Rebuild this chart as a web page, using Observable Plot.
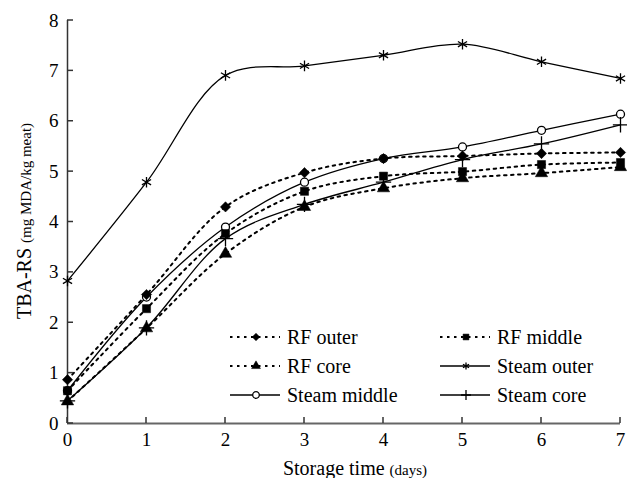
<!DOCTYPE html>
<html>
<head>
<meta charset="utf-8">
<script src="https://cdn.jsdelivr.net/npm/d3@7"></script>
<script src="https://cdn.jsdelivr.net/npm/@observablehq/plot@0.6"></script>
<style>
  html, body { margin: 0; padding: 0; background: white; }
</style>
</head>
<body>
<div id="chart"></div>
<script>
const days = [0, 1, 2, 3, 4, 5, 6, 7];
const rfOuter     = [0.87, 2.56, 4.30, 4.98, 5.26, 5.31, 5.36, 5.38];
const rfMiddle    = [0.65, 2.28, 3.77, 4.61, 4.91, 5.00, 5.14, 5.18];
const rfCore      = [0.44, 1.89, 3.37, 4.30, 4.67, 4.87, 4.97, 5.09];
const steamOuter  = [2.83, 4.79, 6.91, 7.10, 7.31, 7.53, 7.18, 6.85];
const steamMiddle = [0.65, 2.51, 3.90, 4.79, 5.26, 5.49, 5.82, 6.14];
const steamCore   = [0.45, 1.90, 3.67, 4.35, 4.79, 5.24, 5.55, 5.93];
const seriesNames = ["RF outer", "RF middle", "RF core", "Steam outer", "Steam middle", "Steam core"];
const xTicks = [0, 1, 2, 3, 4, 5, 6, 7];
const yTicks = [0, 1, 2, 3, 4, 5, 6, 7, 8];

const seriesValues = [rfOuter, rfMiddle, rfCore, steamOuter, steamMiddle, steamCore];
const styles = [
  {symbol: "square", rotate: 45, dotted: true, fill: "black", r: 4.1},
  {symbol: "square", rotate: 0, dotted: true, fill: "black", r: 4.6},
  {symbol: "triangle", rotate: 0, dotted: true, fill: "black", r: 4.6},
  {symbol: "asterisk", rotate: 0, dotted: false, fill: "none", r: 5},
  {symbol: "circle", rotate: 0, dotted: false, fill: "white", r: 4},
  {symbol: "plus", rotate: 0, dotted: false, fill: "none", r: 5}
];
const series = seriesNames.map((name, i) => ({
  name, ...styles[i],
  rows: days.map((d, j) => ({day: d, value: seriesValues[i][j], name}))
}));

const DOT = "2.5,4.5";

const marks = [];
marks.push(Plot.ruleY([0], {stroke: "#666", strokeWidth: 2}));
marks.push(Plot.ruleX([0], {stroke: "#333", strokeWidth: 1.5}));
marks.push(Plot.axisX({ticks: xTicks, tickSize: 0, tickPadding: 9, fontSize: 19, tickFormat: d => d}));
marks.push(Plot.axisY({ticks: yTicks, tickSize: 0, tickPadding: 9, fontSize: 19, tickFormat: d => d}));
for (const s of series) {
  marks.push(Plot.line(s.rows, {
    x: "day", y: "value", curve: "catmull-rom",
    stroke: "black",
    strokeWidth: s.dotted ? 2 : 1.3,
    strokeDasharray: s.dotted ? DOT : null
  }));
}
// steam markers first, RF markers on top
for (const s of [...series.slice(3), ...series.slice(0, 3)]) {
  marks.push(Plot.dot(s.rows, {
    x: "day", y: "value", symbol: s.symbol, r: s.r, rotate: s.rotate,
    fill: s.symbol === "circle" ? "white" : (s.fill === "none" ? null : "black"),
    stroke: "black",
    strokeWidth: s.fill === "black" ? 0.5 : 1.3
  }));
}

const plot = Plot.plot({
  width: 627, height: 478,
  marginLeft: 67, marginRight: 7, marginTop: 20, marginBottom: 55,
  style: {fontFamily: "'Liberation Serif', 'Times New Roman', serif", fontSize: "19px", background: "white", color: "black", overflow: "visible"},
  x: {domain: [0, 7], label: null},
  y: {domain: [0, 8], label: null},
  marks
});
document.getElementById("chart").appendChild(plot);

const svg = d3.select(plot);
const sx = plot.scale("x"), sy = plot.scale("y");
// inward tick marks through the plot's scales
const tg = svg.append("g").attr("stroke", "#333").attr("stroke-width", 1.5);
xTicks.forEach(t => {
  const px = sx.apply(t), py = sy.apply(0);
  tg.append("line").attr("x1", px).attr("x2", px).attr("y1", py).attr("y2", py - 6);
});
yTicks.forEach(t => {
  const px = sx.apply(0), py = sy.apply(t);
  tg.append("line").attr("x1", px).attr("x2", px + 6).attr("y1", py).attr("y2", py);
});

const font = "'Liberation Serif', 'Times New Roman', serif";
const xl = svg.append("text")
  .attr("x", 355).attr("y", 475).attr("text-anchor", "middle")
  .attr("font-family", font).attr("font-size", 20).attr("fill", "black");
xl.append("tspan").text("Storage time ");
xl.append("tspan").attr("font-size", 15).text("(days)");

const yl = svg.append("text")
  .attr("transform", "translate(31,221) rotate(-90)").attr("text-anchor", "middle")
  .attr("font-family", font).attr("font-size", 20).attr("fill", "black");
yl.append("tspan").text("TBA-RS ");
yl.append("tspan").attr("font-size", 15).text("(mg MDA/kg meat)");

const legendRows = [337, 366, 395];
const legendCols = [230, 440];
const symMap = {square: d3.symbolSquare, triangle: d3.symbolTriangle,
  asterisk: d3.symbolAsterisk, circle: d3.symbolCircle, plus: d3.symbolPlus};
const lg = svg.append("g");
series.forEach((s, i) => {
  const cx = legendCols[i % 2];
  const cy = legendRows[Math.floor(i / 2)];
  lg.append("line").attr("x1", cx).attr("x2", cx + 50).attr("y1", cy).attr("y2", cy)
    .attr("stroke", "black").attr("stroke-width", s.dotted ? 2 : 1.3)
    .attr("stroke-dasharray", s.dotted ? DOT : null);
  const rr = s.rotate ? 3 : 3.3;
  const size = Math.PI * rr * rr;
  lg.append("path").attr("d", d3.symbol(symMap[s.symbol], size)())
    .attr("transform", `translate(${cx + 26},${cy}) rotate(${s.rotate})`)
    .attr("fill", s.symbol === "circle" ? "white" : (s.fill === "none" ? "none" : "black"))
    .attr("stroke", "black").attr("stroke-width", s.fill === "black" ? 0.5 : 1.3);
  lg.append("text").attr("x", cx + 57).attr("y", cy).attr("dy", "0.35em")
    .attr("text-anchor", "start")
    .attr("font-family", font).attr("font-size", 20).attr("fill", "black").text(s.name);
});
</script>
</body>
</html>
